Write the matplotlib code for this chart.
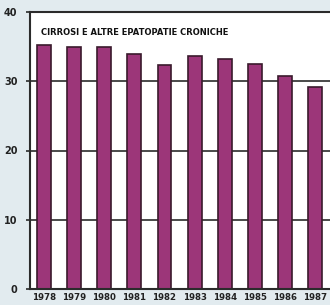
import numpy as np
import matplotlib
matplotlib.use("Agg")
import matplotlib.pyplot as plt

# Values
years = ["1978", "1979", "1980", "1981", "1982", "1983", "1984", "1985", "1986", "1987"]
values = [35.2, 34.9, 34.9, 33.9, 32.3, 33.6, 33.2, 32.5, 30.8, 29.2]
yticks = [0, 10, 20, 30, 40]
title = "CIRROSI E ALTRE EPATOPATIE CRONICHE"

BAR_COLOR = "#9c3679"
EDGE_COLOR = "#3a1a2c"
LINE_COLOR = "#2b2b2b"
BG = "#e2ebef"
FONT = "Liberation Sans Narrow"

fig = plt.figure(figsize=(3.30, 3.05), dpi=100, facecolor=BG)
ax = fig.add_axes([30 / 330, 1 - 289 / 305, 1.02 - 30 / 330, (289 - 12) / 305])
ax.set_facecolor("white")

x = np.arange(len(years))
for yv in yticks[1:4]:
    ax.axhline(yv, color=LINE_COLOR, lw=1.2, zorder=1)
ax.bar(x, values, width=0.46, color=BAR_COLOR, edgecolor=EDGE_COLOR, linewidth=1.2, zorder=2)

ax.set_xlim(-0.47, 9.72)
ax.set_ylim(0, 40)
ax.set_yticks(yticks)
ax.set_yticklabels([str(v) for v in yticks], fontsize=7, fontweight="bold",
                   family=FONT, color="#222222")
ax.set_xticks(x)
ax.set_xticklabels(years, fontsize=6.2, fontweight="bold", family=FONT, color="#222222")
ax.tick_params(axis="y", length=3, width=1.2, pad=6, color=LINE_COLOR)
ax.tick_params(axis="x", length=0, pad=3)

for side in ["left", "bottom", "top"]:
    ax.spines[side].set_linewidth(1.5)
    ax.spines[side].set_color(LINE_COLOR)
ax.spines["right"].set_visible(False)

ax.text(0.035, 0.925, title, transform=ax.transAxes, fontsize=6, fontweight="bold",
        family=FONT, color="#111111", va="center", ha="left")

fig.savefig("out.png", dpi=100, facecolor=BG)
